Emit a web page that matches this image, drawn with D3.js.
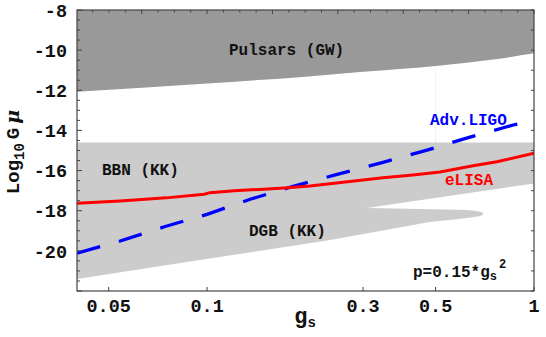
<!DOCTYPE html>
<html><head><meta charset="utf-8">
<script src="https://cdn.jsdelivr.net/npm/d3@7"></script>
<style>body{margin:0;background:#fff}svg{display:block}</style>
</head><body>
<svg id="c" width="546" height="337"></svg>
<script>
// ---- data ----
const xTicks = [0.05, 0.1, 0.3, 0.5, 1];
const xTickLabels = ["0.05", "0.1", "0.3", "0.5", "1"];
const yTicks = [-20, -18, -16, -14, -12, -10, -8];
const yTickLabels = ["-20", "-18", "-16", "-14", "-12", "-10", "-8"];

const pulsarG = [0.04, 0.1, 0.2, 0.3, 0.5, 0.75, 1];
const pulsarV = [-12.07, -11.66, -11.32, -11.08, -10.79, -10.47, -10.16];

const bbnTopG = [0.04, 1];
const bbnTopV = [-14.6, -14.6];
const bbnBotG = [1, 0.308];
const bbnBotV = [-16.64, -17.87];
const dgbTopG = [0.308, 0.45, 0.6, 0.65, 0.68, 0.695, 0.70];
const dgbTopV = [-17.87, -17.91, -17.95, -17.99, -18.04, -18.09, -18.15];
const dgbBotG = [0.695, 0.68, 0.65, 0.58, 0.48, 0.238, 0.095, 0.04];
const dgbBotV = [-18.22, -18.27, -18.33, -18.43, -18.56, -19.46, -20.46, -21.40];

const elisaG = [0.04, 0.0542, 0.075, 0.098, 0.102, 0.121, 0.149, 0.172, 0.206, 0.245, 0.345, 0.426, 0.516, 0.651, 0.770, 1];
const elisaV = [-17.63, -17.52, -17.36, -17.18, -17.10, -17.00, -16.93, -16.87, -16.77, -16.63, -16.36, -16.22, -16.07, -15.76, -15.56, -15.14];

const ligoG = [0.04, 0.0542, 0.074, 0.1, 0.1355, 0.1845, 0.25, 0.345, 0.471, 0.637, 0.863, 1];
const ligoV = [-20.12, -19.51, -18.80, -18.18, -17.43, -16.77, -16.19, -15.59, -14.98, -14.33, -13.73, -13.50];

// ---- layout ----
const L = 77, R = 534, T = 10, B = 291;
const svg = d3.select("#c");
const x = d3.scaleLog().domain([0.04, 1]).range([L, R]);
const y = d3.scaleLinear().domain([-22, -8]).range([B, T]);
const mono = "'Liberation Mono', 'DejaVu Sans Mono', monospace";

svg.append("defs").append("clipPath").attr("id", "clip")
  .append("rect").attr("x", L).attr("y", T).attr("width", R - L).attr("height", B - T);
const plot = svg.append("g").attr("clip-path", "url(#clip)");

// Pulsars region
const pulsarPts = pulsarG.map((g, i) => [g, pulsarV[i]]);
plot.append("path")
  .attr("d", d3.area().x(d => x(d[0])).y0(y(-8)).y1(d => y(d[1])).curve(d3.curveMonotoneX)(pulsarPts))
  .attr("fill", "#999999");

// faint artifact line
plot.append("line").attr("x1", x(0.5)).attr("x2", x(0.5))
  .attr("y1", y(-10.85)).attr("y2", y(-14.6)).attr("stroke", "#f1f1f1").attr("stroke-width", 1);

// BBN + DGB region
const poly = [];
bbnTopG.forEach((g, i) => poly.push([g, bbnTopV[i]]));
bbnBotG.forEach((g, i) => poly.push([g, bbnBotV[i]]));
dgbTopG.forEach((g, i) => poly.push([g, dgbTopV[i]]));
dgbBotG.forEach((g, i) => poly.push([g, dgbBotV[i]]));
plot.append("path")
  .attr("d", d3.line().x(d => x(d[0])).y(d => y(d[1])).curve(d3.curveLinearClosed)(poly))
  .attr("fill", "#cccccc");

// lines
const lineGen = d3.line().x(d => x(d[0])).y(d => y(d[1]));
plot.append("path")
  .attr("d", lineGen(ligoG.map((g, i) => [g, ligoV[i]])))
  .attr("fill", "none").attr("stroke", "#0000ff").attr("stroke-width", 3.3)
  .attr("stroke-dasharray", "24,19.5");
plot.append("path")
  .attr("d", lineGen(elisaG.map((g, i) => [g, elisaV[i]])))
  .attr("fill", "none").attr("stroke", "#ff0000").attr("stroke-width", 3);

// frame
svg.append("rect").attr("x", L).attr("y", T).attr("width", R - L).attr("height", B - T)
  .attr("fill", "none").attr("stroke", "#444").attr("stroke-width", 1.2);

// ticks
const tk = svg.append("g").attr("stroke", "#444").attr("stroke-width", 1);
d3.range(-22, -7.9, 0.5).forEach(v => {
  const major = Math.abs(v % 2) < 1e-9;
  tk.append("line").attr("x1", L).attr("x2", L + (major ? 5 : 3)).attr("y1", y(v)).attr("y2", y(v));
});
d3.range(-22, -7.9, 1).forEach(v => {
  tk.append("line").attr("x1", R).attr("x2", R - 3).attr("y1", y(v)).attr("y2", y(v));
});
d3.range(-1.35, 0.001, 0.05).forEach(lg => {
  const major = Math.abs(Math.round(lg * 5) - lg * 5) < 1e-6;
  const g = Math.pow(10, lg);
  if (g < 0.04) return;
  tk.append("line").attr("x1", x(g)).attr("x2", x(g)).attr("y1", T).attr("y2", T + (major ? 4 : 2.5));
});
xTicks.forEach(g => {
  tk.append("line").attr("x1", x(g)).attr("x2", x(g)).attr("y1", B).attr("y2", B - 4);
});

// tick labels
const txt = svg.append("g").attr("font-family", mono).attr("font-weight", "bold").attr("fill", "#111");
yTicks.forEach((v, i) => {
  txt.append("text").attr("x", 67).attr("y", y(v)).attr("dy", "0.36em")
    .attr("text-anchor", "end").attr("font-size", 18.5).text(yTickLabels[i]);
});
xTicks.forEach((g, i) => {
  txt.append("text").attr("x", x(g)).attr("y", 312)
    .attr("text-anchor", "middle").attr("font-size", 18.5).text(xTickLabels[i]);
});

// axis titles
const xt = txt.append("text").attr("x", 305).attr("y", 323).attr("text-anchor", "middle").attr("font-size", 22);
xt.append("tspan").text("g");
xt.append("tspan").attr("font-size", 14).attr("dy", 4).text("s");

const yt = txt.append("text").attr("transform", "translate(19,152) rotate(-90)")
  .attr("text-anchor", "middle").attr("font-size", 19);
yt.append("tspan").text("Log");
yt.append("tspan").attr("font-size", 14).attr("dy", 5).text("10");
yt.append("tspan").attr("dy", -5).attr("dx", 4).text("G");
yt.append("tspan").attr("dx", 4).attr("font-style", "italic").attr("font-family", "'DejaVu Serif', serif").text("μ");

// region labels
txt.append("text").attr("x", 229).attr("y", 55).attr("font-size", 16).text("Pulsars (GW)");
txt.append("text").attr("x", 102).attr("y", 175).attr("font-size", 16).text("BBN (KK)");
txt.append("text").attr("x", 249).attr("y", 236).attr("font-size", 16).text("DGB (KK)");
txt.append("text").attr("x", 430).attr("y", 125).attr("font-size", 16).attr("fill", "#0000ff").text("Adv.LIGO");
txt.append("text").attr("x", 445).attr("y", 185).attr("font-size", 16).attr("fill", "#ff0000").text("eLISA");
const pt = txt.append("text").attr("x", 413).attr("y", 277).attr("font-size", 16);
pt.append("tspan").text("p=0.15*g");
pt.append("tspan").attr("font-size", 12).attr("dy", 3).text("s");
pt.append("tspan").attr("font-size", 12).attr("dy", -12).attr("dx", 2).text("2");
</script>
</body></html>
